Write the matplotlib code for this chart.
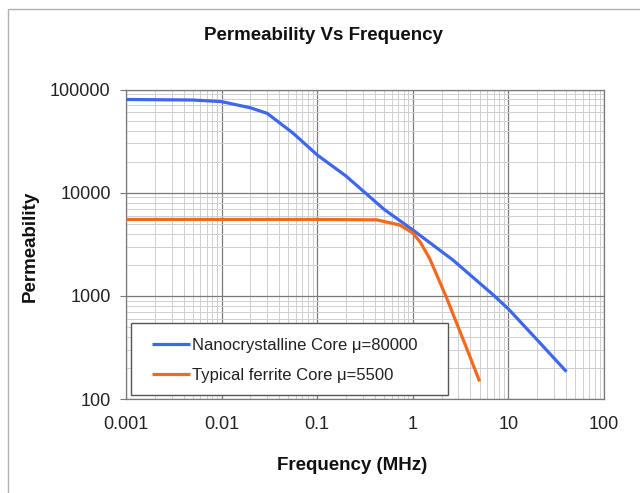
import matplotlib
matplotlib.use("Agg")
import matplotlib.pyplot as plt
from matplotlib.patches import Rectangle
from matplotlib.ticker import LogLocator, FixedLocator, FixedFormatter, NullFormatter

plt.rcParams['font.family'] = ['Liberation Sans', 'DejaVu Sans']

# Data (frequency in MHz, permeability)
nano_freq = [0.001, 0.005, 0.01, 0.02, 0.03, 0.056, 0.1, 0.2, 0.5, 1.0, 2.62, 6.95, 10, 20, 40.5]
nano_perm = [80000, 79100, 76300, 66500, 58700, 37700, 23200, 14500, 6900, 4350, 2230, 1020, 746, 374, 184]

ferrite_freq = [0.001, 0.01, 0.1, 0.42, 0.73, 1.0, 1.2, 1.5, 2.23, 3.6, 5.0]
ferrite_perm = [5500, 5500, 5500, 5450, 4860, 4070, 3300, 2300, 982, 322, 148]

x_ticks = [0.001, 0.01, 0.1, 1, 10, 100]
x_labels = ["0.001", "0.01", "0.1", "1", "10", "100"]
y_ticks = [100, 1000, 10000, 100000]
y_labels = ["100", "1000", "10000", "100000"]

series_labels = ["Nanocrystalline Core \u03bc=80000", "Typical ferrite Core \u03bc=5500"]

W, H = 640, 493
fig = plt.figure(figsize=(6.4, 4.93), dpi=100)
fig.patch.set_facecolor('white')

def fx(px):
    return px / W

def fy(py):
    return 1 - py / H

# outer frame
fig.add_artist(Rectangle((fx(8), -0.1), 1.2, fy(9) + 0.1, transform=fig.transFigure,
                         fill=False, edgecolor='#b0b0b0', linewidth=1.0))

ax = fig.add_axes([fx(126), fy(399), (604 - 126) / W, (399 - 89.5) / H])
ax.set_xscale('log')
ax.set_yscale('log')
ax.set_xlim(0.001, 100)
ax.set_ylim(100, 100000)

ax.xaxis.set_major_locator(FixedLocator(x_ticks))
ax.xaxis.set_major_formatter(FixedFormatter(x_labels))
ax.yaxis.set_major_locator(FixedLocator(y_ticks))
ax.yaxis.set_major_formatter(FixedFormatter(y_labels))
ax.xaxis.set_minor_locator(LogLocator(base=10, subs=range(2, 10)))
ax.yaxis.set_minor_locator(LogLocator(base=10, subs=range(2, 10)))
ax.xaxis.set_minor_formatter(NullFormatter())
ax.yaxis.set_minor_formatter(NullFormatter())

ax.grid(which='minor', color='#cfcfcf', linewidth=0.7)
ax.grid(which='major', color='#7a7a7a', linewidth=0.9)
ax.set_axisbelow(True)
ax.tick_params(which='minor', length=0)
ax.tick_params(which='major', length=4, color='#7a7a7a', labelsize=13, labelcolor='#222222', pad=7)
ax.tick_params(axis='x', which='major', length=0, pad=12)
for s in ax.spines.values():
    s.set_color('#7a7a7a')
    s.set_linewidth(0.9)

ax.plot(nano_freq, nano_perm, color='#3D68EE', linewidth=2.3, label=series_labels[0],
        solid_capstyle='butt', solid_joinstyle='round', zorder=3)
ax.plot(ferrite_freq, ferrite_perm, color='#F26B1D', linewidth=2.3, label=series_labels[1],
        solid_capstyle='butt', solid_joinstyle='round', zorder=3)

# legend frame (drawn inside the axes so the legend can sit on top)
frame = Rectangle((fx(131), fy(395)), (448 - 131) / W, (395 - 323) / H,
                  transform=fig.transFigure, facecolor='white', edgecolor='#555555',
                  linewidth=1.0, zorder=4, clip_on=False)
ax.add_artist(frame)
leg = ax.legend(loc='upper left', bbox_to_anchor=(fx(152), fy(338)), bbox_transform=fig.transFigure,
                borderaxespad=0, frameon=False, fontsize=12, borderpad=0,
                handlelength=2.3, handletextpad=0.1, labelspacing=0.9)
leg.set_zorder(5)
for t in leg.get_texts():
    t.set_color('#222222')

fig.text(fx(323), fy(36), "Permeability Vs Frequency", ha='center', va='center',
         fontsize=13.5, fontweight='bold', color='#111111')
fig.text(fx(352), fy(465), "Frequency (MHz)", ha='center', va='center',
         fontsize=13.5, fontweight='bold', color='#111111')
fig.text(fx(30), fy(246), "Permeability", ha='center', va='center', rotation=90,
         fontsize=13.5, fontweight='bold', color='#111111')

fig.savefig('out.png', dpi=100, facecolor='white')
